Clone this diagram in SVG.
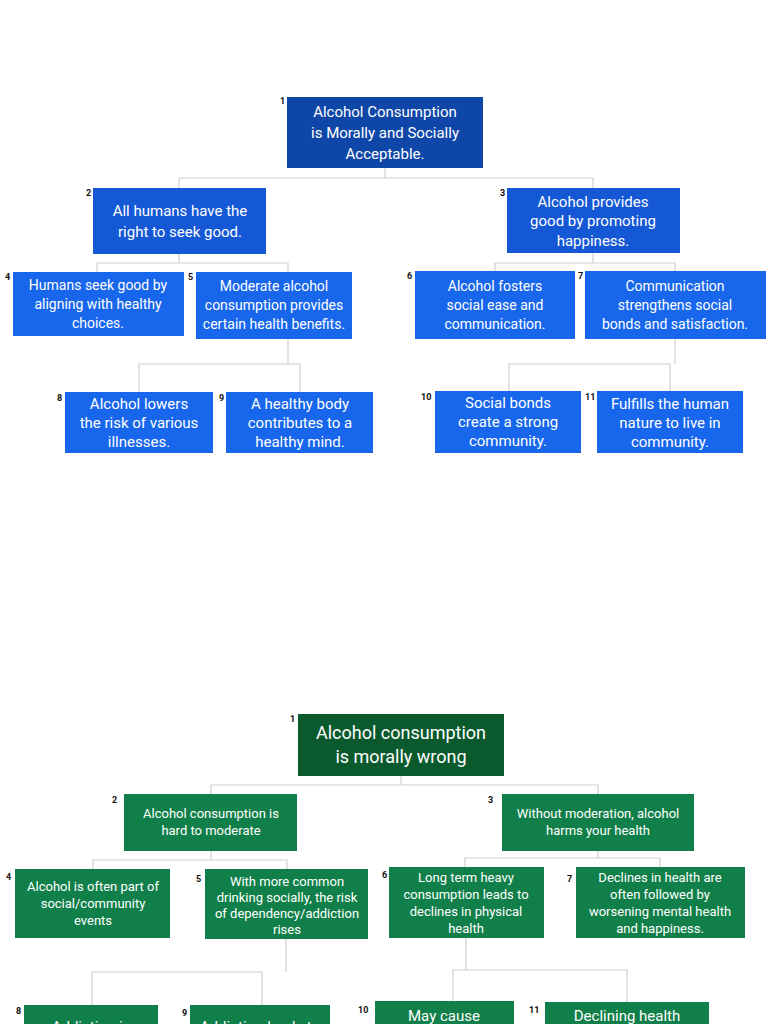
<svg xmlns="http://www.w3.org/2000/svg" width="768" height="1024" viewBox="0 0 768 1024">
<style>
text{font-family:Roboto,"Liberation Sans",sans-serif;fill:#fff;text-anchor:middle}
.n{fill:#111;font-size:9px;text-anchor:start;font-weight:bold}
.t{font-size:15px}
.s{font-size:14px}
.g{font-size:13px}
.b1{fill:#0f47a8}.b2{fill:#1558d6}.b3{fill:#1766ec}
.g1{fill:#0b5a2e}.g2{fill:#117f49}
.c{fill:none;stroke:#cfcfcf;stroke-width:1.2}
</style>
<rect width="768" height="1024" fill="#fff"/>
<g id="connectors">
<path class="c" d="M385 168V178M179 188V178H593V188M179 254V263M97 272V263H288V272M593 253V263M495 271V263H675V271M288 339V364M139 392V364H300V392M675 339V364M509 391V364H670V391"/>
<path class="c" d="M401 776V785M211 794V785H598V794M211 851V860M93 869V860H287V869M598 851V858M465 867V858H660V867M286 939V972M92 1005V972H262V1005M466 938V970M453 1001V970H627V1002"/>
</g>
<g id="a1"><rect class="b1" x="287" y="97" width="196" height="71"/><text class="n" x="280" y="104">1</text><text class="t" x="385" y="117">Alcohol Consumption</text><text class="t" x="385" y="138">is Morally and Socially</text><text class="t" x="385" y="159">Acceptable.</text></g>
<g id="a2"><rect class="b2" x="93" y="188" width="173" height="66"/><text class="n" x="86" y="196">2</text><text class="t" x="180" y="216">All humans have the</text><text class="t" x="180" y="237">right to seek good.</text></g>
<g id="a3"><rect class="b2" x="507" y="188" width="173" height="65"/><text class="n" x="500" y="196">3</text><text class="t" x="593" y="207">Alcohol provides</text><text class="t" x="593" y="226">good by promoting</text><text class="t" x="593" y="246">happiness.</text></g>
<g id="a4"><rect class="b3" x="13" y="272" width="171" height="64"/><text class="n" x="5" y="280">4</text><text class="s" x="98" y="290">Humans seek good by</text><text class="s" x="98" y="309">aligning with healthy</text><text class="s" x="98" y="328">choices.</text></g>
<g id="a5"><rect class="b3" x="196" y="272" width="156" height="67"/><text class="n" x="188" y="280">5</text><text class="s" x="274" y="291">Moderate alcohol</text><text class="s" x="274" y="310">consumption provides</text><text class="s" x="274" y="329">certain health benefits.</text></g>
<g id="a6"><rect class="b3" x="415" y="271" width="160" height="68"/><text class="n" x="407" y="279">6</text><text class="s" x="495" y="291">Alcohol fosters</text><text class="s" x="495" y="310">social ease and</text><text class="s" x="495" y="329">communication.</text></g>
<g id="a7"><rect class="b3" x="585" y="271" width="181" height="68"/><text class="n" x="578" y="279">7</text><text class="s" x="675" y="291">Communication</text><text class="s" x="675" y="310">strengthens social</text><text class="s" x="675" y="329">bonds and satisfaction.</text></g>
<g id="a8"><rect class="b3" x="65" y="392" width="148" height="61"/><text class="n" x="57" y="401">8</text><text class="t" x="139" y="409">Alcohol lowers</text><text class="t" x="139" y="428">the risk of various</text><text class="t" x="139" y="447">illnesses.</text></g>
<g id="a9"><rect class="b3" x="226" y="392" width="147" height="61"/><text class="n" x="219" y="401">9</text><text class="t" x="300" y="409">A healthy body</text><text class="t" x="300" y="428">contributes to a</text><text class="t" x="300" y="447">healthy mind.</text></g>
<g id="a10"><rect class="b3" x="435" y="391" width="146" height="62"/><text class="n" x="421" y="400">10</text><text class="t" x="508" y="408">Social bonds</text><text class="t" x="508" y="427">create a strong</text><text class="t" x="508" y="446">community.</text></g>
<g id="a11"><rect class="b3" x="597" y="391" width="146" height="62"/><text class="n" x="585" y="400">11</text><text class="t" x="670" y="409">Fulfills the human</text><text class="t" x="670" y="428">nature to live in</text><text class="t" x="670" y="447">community.</text></g>

<g id="b1"><rect class="g1" x="298" y="714" width="206" height="62"/><text class="n" x="290" y="722">1</text><text x="401" y="739" font-size="18">Alcohol consumption</text><text x="401" y="763" font-size="18">is morally wrong</text></g>
<g id="b2"><rect class="g2" x="124" y="794" width="173" height="57"/><text class="n" x="112" y="803">2</text><text class="g" x="211" y="818">Alcohol consumption is</text><text class="g" x="211" y="835">hard to moderate</text></g>
<g id="b3"><rect class="g2" x="502" y="794" width="192" height="57"/><text class="n" x="488" y="803">3</text><text class="g" x="598" y="818">Without moderation, alcohol</text><text class="g" x="598" y="835">harms your health</text></g>
<g id="b4"><rect class="g2" x="15" y="869" width="155" height="69"/><text class="n" x="6" y="880">4</text><text class="g" x="93" y="891">Alcohol is often part of</text><text class="g" x="93" y="908">social/community</text><text class="g" x="93" y="925">events</text></g>
<g id="b5"><rect class="g2" x="205" y="869" width="163" height="70"/><text class="n" x="196" y="882">5</text><text class="g" x="287" y="886" font-size="12.5">With more common</text><text class="g" x="287" y="902" font-size="12.5">drinking socially, the risk</text><text class="g" x="287" y="918" font-size="12.5">of dependency/addiction</text><text class="g" x="287" y="934" font-size="12.5">rises</text></g>
<g id="b6"><rect class="g2" x="389" y="867" width="155" height="71"/><text class="n" x="382" y="878">6</text><text class="g" x="466" y="882">Long term heavy</text><text class="g" x="466" y="899">consumption leads to</text><text class="g" x="466" y="916">declines in physical</text><text class="g" x="466" y="933">health</text></g>
<g id="b7"><rect class="g2" x="576" y="867" width="169" height="71"/><text class="n" x="567" y="882">7</text><text class="g" x="660" y="882">Declines in health are</text><text class="g" x="660" y="899">often followed by</text><text class="g" x="660" y="916">worsening mental health</text><text class="g" x="660" y="933">and happiness.</text></g>
<g id="b8"><rect class="g2" x="24" y="1005" width="134" height="30"/><text class="n" x="16" y="1014">8</text><text class="t" x="91" y="1032">Addiction is</text></g>
<g id="b9"><rect class="g2" x="190" y="1005" width="140" height="30"/><text class="n" x="182" y="1016">9</text><text class="t" x="260" y="1032">Addiction leads to</text></g>
<g id="b10"><rect class="g2" x="375" y="1001" width="139" height="30"/><text class="n" x="358" y="1013">10</text><text class="t" x="444" y="1021">May cause</text></g>
<g id="b11"><rect class="g2" x="545" y="1002" width="164" height="30"/><text class="n" x="529" y="1013">11</text><text class="t" x="627" y="1021">Declining health</text></g>
</svg>
